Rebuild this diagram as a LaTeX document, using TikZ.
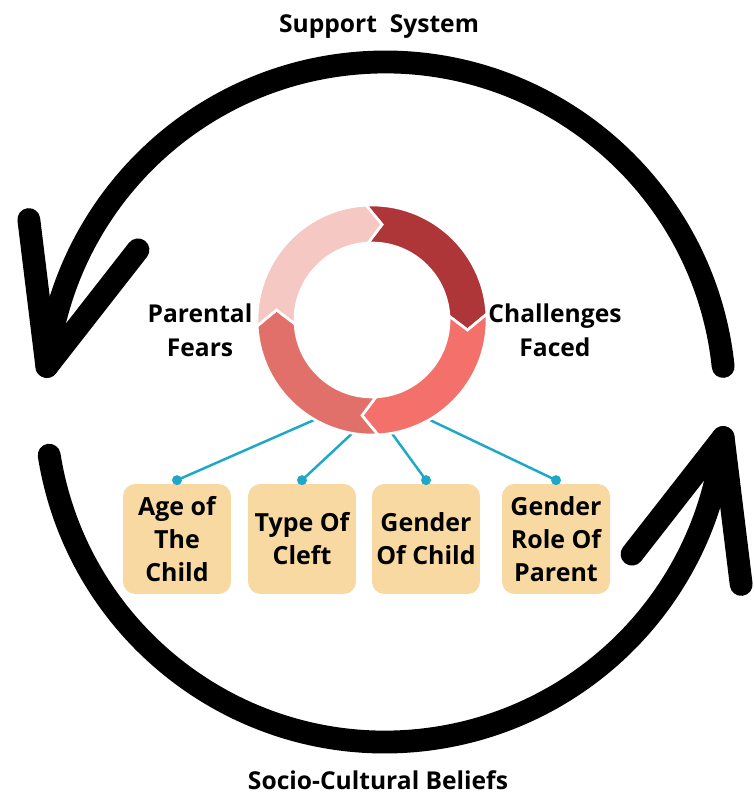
\documentclass[tikz,border=0pt]{standalone}
\usepackage{fontspec}
\setmainfont{Open Sans}
\usetikzlibrary{calc,positioning}

\definecolor{segdark}{HTML}{AE3638}
\definecolor{segcoral}{HTML}{F4706B}
\definecolor{segrose}{HTML}{E2706A}
\definecolor{segpale}{HTML}{F6C8C4}
\definecolor{boxfill}{HTML}{F8D9A1}
\definecolor{wire}{HTML}{1DA8CA}

\tikzset{
  loopline/.style={black, line width=13pt, line cap=round, line join=round},
  seg/.style={draw=white, line width=1.5pt},
  factor/.style={fill=boxfill, rounded corners=7pt, minimum width=2.16cm,
    minimum height=2.2cm, inner sep=2pt, align=center,
    font=\bfseries\fontsize{14.2}{18.8}\selectfont},
  lbl/.style={align=center, font=\bfseries\fontsize{14}{19.2}\selectfont},
  wireline/.style={wire, line width=1.4pt},
}

% one quarter of the ring, chevron at its clockwise end
\newcommand{\ringseg}[2]{%
  \path[seg, fill=#2] (#1:115) arc[start angle=#1, end angle=#1-90, radius=115]
    -- (#1-99:96) -- (#1-90:77) arc[start angle=#1-90, end angle=#1, radius=77]
    -- (#1-9:96) -- cycle;}

\begin{document}
\begin{tikzpicture}[x=0.02cm, y=0.02cm]
\useasboundingbox (0,0) rectangle (753,-793);

% big cycle arrows
\coordinate (hub) at (385,-402);
\draw[loopline] ($(hub)+(6:340)$) arc[start angle=6, end angle=174, radius=340] coordinate (tipL);
\draw[loopline] ($(tipL)+(97:148)$) -- (tipL) -- ($(tipL)+(52:148)$);
\draw[loopline] ($(hub)+(189:340)$) arc[start angle=189, end angle=354, radius=340] coordinate (tipR);
\draw[loopline] ($(tipR)+(232:148)$) -- (tipR) -- ($(tipR)+(277:148)$);

\node[lbl] (support) at (379,-27) {Support\ \ System};
\node[lbl] (beliefs) at (378,-780) {Socio-Cultural Beliefs};

% factor boxes
\node[factor] (age) at (177,-539) {Age of\\The\\Child};
\node[factor] (type) at (302,-539) {Type Of\\Cleft};
\node[factor] (gender) at (426,-539) {Gender\\Of Child};
\node[factor] (role) at (556,-539) {Gender\\Role Of\\Parent};

% ring in the middle
\node[circle, minimum size=4.6cm, inner sep=0pt] (ring) at (372,-320) {};
\foreach \a/\b in {240/age, 260/type, 280/gender, 300/role} {
  \draw[wireline] (ring.\a) -- ([yshift=2pt]\b.north);
  \fill[wire] ([yshift=2pt]\b.north) circle[radius=5];
}
\begin{scope}[shift={(372,-320)}]
  \ringseg{93}{segdark}
  \ringseg{3}{segcoral}
  \ringseg{-87}{segrose}
  \ringseg{-177}{segpale}
\end{scope}

\node[lbl] (fears) at (200,-330) {Parental\\Fears};
\node[lbl] (faced) at (555,-330) {Challenges\\Faced};
\end{tikzpicture}
\end{document}
